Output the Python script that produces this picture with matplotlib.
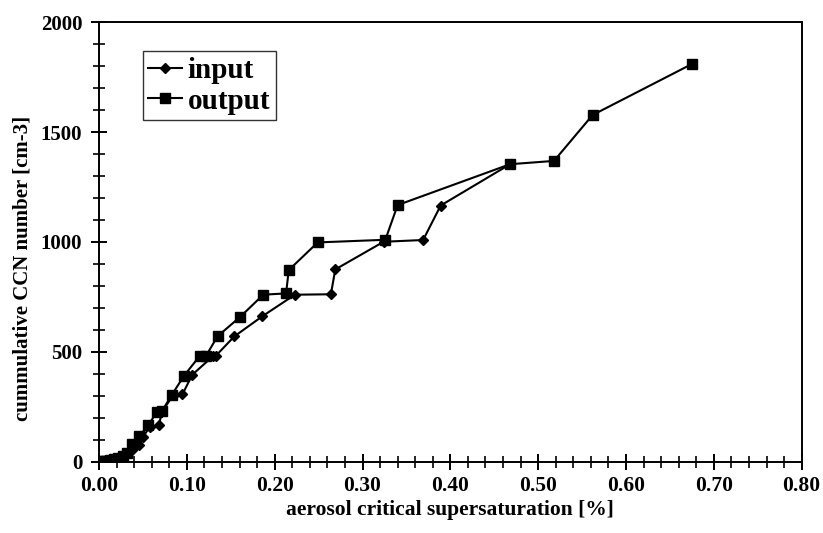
#!/usr/bin/env python
# -*- coding: utf-8 -*-
"""Cumulative CCN number vs aerosol critical supersaturation."""
import matplotlib
matplotlib.use("Agg")
import matplotlib.pyplot as plt
from matplotlib.ticker import MultipleLocator, FormatStrFormatter

# input series (diamonds)
input_x = [0.001, 0.004, 0.008, 0.012, 0.016, 0.020, 0.024, 0.028, 0.033, 0.038,
           0.045, 0.050, 0.058, 0.068, 0.072, 0.085, 0.095, 0.106, 0.130, 0.133,
           0.154, 0.186, 0.223, 0.264, 0.269, 0.324, 0.369, 0.389, 0.468]
input_y = [1, 3, 5, 8, 12, 18, 24, 30, 40, 55,
           78, 112, 160, 165, 230, 305, 306, 395, 481, 482,
           570, 662, 760, 762, 875, 1001, 1009, 1166, 1354]

# output series (squares)
output_x = [0.001, 0.004, 0.008, 0.012, 0.017, 0.022, 0.027, 0.032, 0.038, 0.046,
            0.056, 0.066, 0.072, 0.083, 0.097, 0.115, 0.122, 0.135, 0.161, 0.187,
            0.213, 0.216, 0.249, 0.326, 0.340, 0.468, 0.518, 0.562, 0.675]
output_y = [1, 3, 5, 8, 12, 18, 28, 40, 80, 118,
            165, 228, 232, 305, 392, 483, 483, 571, 660, 760,
            766, 872, 998, 1010, 1168, 1354, 1369, 1578, 1810]

x_ticks = [0.0, 0.1, 0.2, 0.3, 0.4, 0.5, 0.6, 0.7, 0.8]
y_ticks = [0, 500, 1000, 1500, 2000]

plt.rcParams['font.family'] = ['Liberation Serif', 'DejaVu Serif']
plt.rcParams['font.weight'] = 'bold'

fig = plt.figure(figsize=(8.23, 5.33), dpi=100)
ax = fig.add_axes([0.1203, 0.1338, 0.8538, 0.8244])

ax.plot(input_x, input_y, color='black', lw=1.5, marker='D', ms=5,
        label='input')
ax.plot(output_x, output_y, color='black', lw=1.5, marker='s', ms=6.5,
        label='output')

ax.set_xlim(0, 0.8)
ax.set_ylim(0, 2000)
ax.set_xticks(x_ticks)
ax.set_yticks(y_ticks)
ax.xaxis.set_major_formatter(FormatStrFormatter('%.2f'))
ax.xaxis.set_minor_locator(MultipleLocator(0.02))
ax.yaxis.set_minor_locator(MultipleLocator(100))
ax.tick_params(which='major', direction='inout', length=12, width=1.4,
               labelsize=15, top=False, right=False)
ax.tick_params(which='minor', direction='inout', length=8, width=1.2,
               top=False, right=False)
ax.tick_params(axis='x', which='major', pad=4, labelsize=15.5)
ax.tick_params(axis='y', which='major', pad=6)
for lab in ax.get_xticklabels() + ax.get_yticklabels():
    lab.set_fontweight('bold')
for sp in ax.spines.values():
    sp.set_linewidth(1.4)

ax.set_xlabel('aerosol critical supersaturation [%]', fontsize=15.5,
              fontweight='bold', labelpad=3)
ax.set_ylabel('cummulative CCN number [cm-3]', fontsize=15,
              fontweight='bold')
ax.yaxis.set_label_coords(-0.095, 0.44)

leg = ax.legend(loc='upper left', bbox_to_anchor=(0.062, 0.934),
                prop={'family': 'Liberation Serif', 'weight': 'bold', 'size': 21},
                frameon=True, fancybox=False, edgecolor='black',
                handlelength=1.15, handletextpad=0.2, borderpad=0.2,
                borderaxespad=0, labelspacing=0.12)
leg.get_frame().set_linewidth(1.0)

plt.savefig('out.png', dpi=100)
